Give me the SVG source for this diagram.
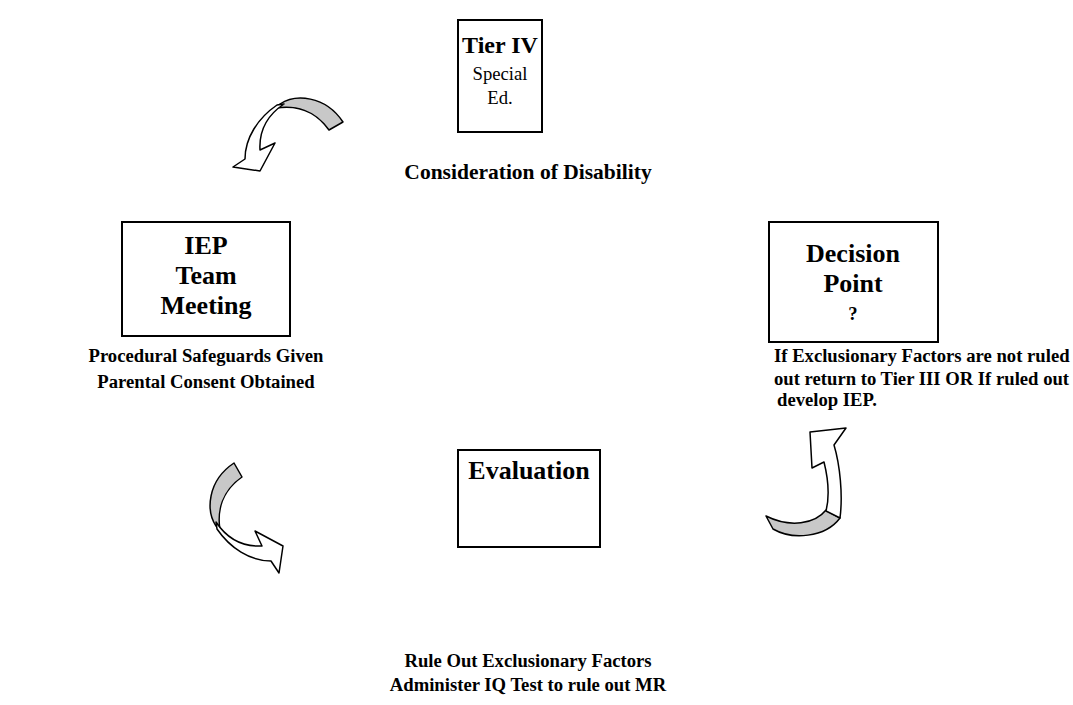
<svg xmlns="http://www.w3.org/2000/svg" width="1073" height="705" viewBox="0 0 1073 705">
<style>
.box{fill:#fff;stroke:#000;stroke-width:2}
.big{font-family:"Liberation Serif","Times New Roman",serif;font-weight:bold;font-size:26px;text-anchor:middle;fill:#000}
.lab{font-family:"Liberation Serif","Times New Roman",serif;font-weight:bold;font-size:18.67px;fill:#000}
.reg{font-family:"Liberation Serif","Times New Roman",serif;font-size:18.67px;text-anchor:middle;fill:#000}
.mid{text-anchor:middle}
.back{fill:#c8c8c8;stroke:#000;stroke-width:1.5;stroke-linejoin:round}
.front{fill:#fff;stroke:#000;stroke-width:1.5;stroke-linejoin:round}
</style>
<defs>
<g id="curved">
<path class="back" d="M280,104 C295,94 325,95 343,122 L329,130 C315,110 295,105 276,108 Z"/>
<path class="front" d="M277,105 C258,118 245,138 245,159 L233,167 L260,171 L275,143 L260,150 C259,132 266,116 284,104 Z"/>
</g>
</defs>
<g id="tier4">
<rect class="box" x="458" y="20" width="84" height="112"/>
<text class="big" x="500" y="53" style="font-size:24px">Tier IV</text>
<text class="reg" x="500" y="80">Special</text>
<text class="reg" x="500" y="104">Ed.</text>
</g>
<g id="consideration">
<text class="lab mid" x="528" y="179" style="font-size:21.5px">Consideration of Disability</text>
</g>
<g id="iep">
<rect class="box" x="122" y="222" width="168" height="114"/>
<text class="big" x="206" y="254">IEP</text>
<text class="big" x="206" y="284">Team</text>
<text class="big" x="206" y="314">Meeting</text>
</g>
<g id="iep-notes">
<text class="lab mid" x="206" y="362">Procedural Safeguards Given</text>
<text class="lab mid" x="206" y="388">Parental Consent Obtained</text>
</g>
<g id="decision">
<rect class="box" x="769" y="222" width="169" height="120"/>
<text class="big" x="853" y="262">Decision</text>
<text class="big" x="853" y="292">Point</text>
<text class="big" x="853" y="320" style="font-size:18.67px">?</text>
</g>
<g id="decision-notes">
<text class="lab" x="774" y="362">If Exclusionary Factors are not ruled</text>
<text class="lab" x="774" y="385">out return to Tier III OR If ruled out</text>
<text class="lab" x="777" y="406">develop IEP.</text>
</g>
<g id="evaluation">
<rect class="box" x="458" y="450" width="142" height="97"/>
<text class="big" x="529" y="479">Evaluation</text>
</g>
<g id="evaluation-notes">
<text class="lab mid" x="528" y="667">Rule Out Exclusionary Factors</text>
<text class="lab mid" x="528" y="691">Administer IQ Test to rule out MR</text>
</g>
<g id="connectors">
<use href="#curved"/>
<use href="#curved" transform="translate(245,518) rotate(-90) translate(-288,-133)"/>
<g id="arrow-br">
<path class="back" d="M766,516 C790,528 815,524 826,510 L840,518 C825,538 792,540 773,529 Z"/>
<path class="front" d="M826,511 C830,495 828,478 824,462 L812,468 L810,432 L846,428 L834,445 C840,465 843,495 840,518 Z"/>
</g>
</g>
</svg>
